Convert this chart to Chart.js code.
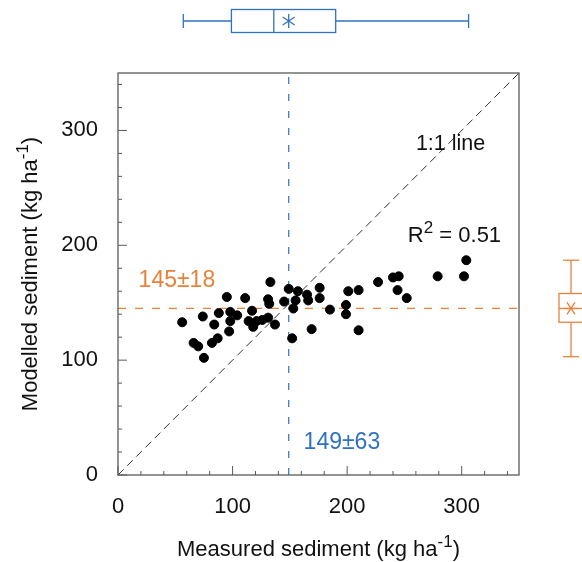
<!DOCTYPE html>
<html>
<head>
<meta charset="utf-8">
<script src="https://cdn.jsdelivr.net/npm/chart.js@4.4.0/dist/chart.umd.min.js"></script>
<style>
  html, body { margin: 0; padding: 0; background: #fff; }
</style>
</head>
<body>
<canvas id="chart" width="582" height="562"></canvas>
<script>
// measured vs modelled sediment, kg/ha
var measured = [56, 74, 66, 70, 75, 82, 87, 84, 88, 95, 98, 104, 98, 97, 111, 117, 114, 118, 121, 126,
                131, 137, 133, 131, 132, 145, 149, 157, 155, 153, 152, 165, 166, 176, 176, 185, 169, 199, 199, 201,
                210, 210, 227, 240, 245, 244, 252, 279, 302, 304];
var modelled = [133, 138, 115, 112, 102, 115, 119, 131, 141, 155, 142, 139, 134, 125, 154, 143, 134, 129, 134, 135,
                137, 131, 168, 153, 149, 151, 162, 160, 152, 145, 119, 157, 152, 163, 154, 144, 127, 148, 140, 160,
                161, 126, 168, 172, 173, 161, 154, 173, 173, 187];

// box plots: whisker low, q1, median, q3, whisker high
var measuredBox = [57, 99, 136, 190, 306];
var modelledBox = [103, 133, 145, 158, 187];
var measuredMean = 149, measuredSd = 63;
var modelledMean = 145, modelledSd = 18;

var axisMax = 350;
var tickLabels = [0, 100, 200, 300];
var r2 = 0.51;

var blue = '#2f72c2';
var orange = '#e8823a';
var FONT = '"Liberation Sans", Arial, sans-serif';

var points = [];
for (var i = 0; i < measured.length; i++) {
  points.push({ x: measured[i], y: modelled[i] });
}

// text with superscripts, parts = [[text, isSup], ...]
function drawRich(ctx, parts, x, y, size, color, align) {
  var w = 0;
  parts.forEach(function (p) {
    ctx.font = (p[1] ? Math.round(size * 0.75) : size) + 'px ' + FONT;
    w += ctx.measureText(p[0]).width;
  });
  var cx = align === 'center' ? x - w / 2 : x;
  ctx.fillStyle = color;
  ctx.textAlign = 'left';
  ctx.textBaseline = 'alphabetic';
  parts.forEach(function (p) {
    ctx.font = (p[1] ? Math.round(size * 0.75) : size) + 'px ' + FONT;
    ctx.fillText(p[0], cx, p[1] ? y - size * 0.42 : y);
    cx += ctx.measureText(p[0]).width;
  });
}

function line(ctx, x1, y1, x2, y2) {
  ctx.beginPath();
  ctx.moveTo(x1, y1);
  ctx.lineTo(x2, y2);
  ctx.stroke();
}

var extras = {
  id: 'extras',
  afterDraw: function (chart) {
    var ctx = chart.ctx;
    var xs = chart.scales.x, ys = chart.scales.y;
    var a = chart.chartArea;
    ctx.save();

    // frame
    ctx.strokeStyle = '#5a5a5a';
    ctx.lineWidth = 1.3;
    ctx.setLineDash([]);
    ctx.strokeRect(a.left, a.top, a.right - a.left, a.bottom - a.top);

    // inward ticks every 20
    ctx.lineWidth = 1;
    for (var v = 0; v <= axisMax; v += 20) {
      var len = v % 100 === 0 ? 9 : 4;
      var px = xs.getPixelForValue(v);
      line(ctx, px, a.bottom, px, a.bottom - len);
      var py = ys.getPixelForValue(v);
      line(ctx, a.left, py, a.left + len, py);
    }

    // top box plot (measured)
    ctx.strokeStyle = blue;
    ctx.lineWidth = 1.3;
    var cy = 21;
    var b = measuredBox.map(function (d) { return xs.getPixelForValue(d); });
    line(ctx, b[0], cy, b[1], cy);
    line(ctx, b[3], cy, b[4], cy);
    line(ctx, b[0], cy - 7, b[0], cy + 7);
    line(ctx, b[4], cy - 7, b[4], cy + 7);
    ctx.strokeRect(b[1], cy - 11.5, b[3] - b[1], 23);
    line(ctx, b[2], cy - 11.5, b[2], cy + 11.5);
    var mx = xs.getPixelForValue(measuredMean);
    line(ctx, mx, cy - 7, mx, cy + 7);
    line(ctx, mx - 6, cy - 4, mx + 6, cy + 4);
    line(ctx, mx - 6, cy + 4, mx + 6, cy - 4);

    // right box plot (modelled)
    ctx.strokeStyle = orange;
    var cx = 571;
    var c = modelledBox.map(function (d) { return ys.getPixelForValue(d); });
    line(ctx, cx, c[0], cx, c[1]);
    line(ctx, cx, c[3], cx, c[4]);
    line(ctx, cx - 8, c[0], cx + 8, c[0]);
    line(ctx, cx - 8, c[4], cx + 8, c[4]);
    ctx.strokeRect(cx - 12, c[3], 24, c[1] - c[3]);
    line(ctx, cx - 12, c[2], cx + 12, c[2]);
    var my = ys.getPixelForValue(modelledMean);
    line(ctx, cx - 7, my, cx + 7, my);
    line(ctx, cx - 4, my - 6, cx + 4, my + 6);
    line(ctx, cx + 4, my - 6, cx - 4, my + 6);

    // annotations
    drawRich(ctx, [['1:1 line', false]], xs.getPixelForValue(260), ys.getPixelForValue(283), 21.5, '#111', 'left');
    drawRich(ctx, [['R', false], ['2', true], [' = ' + r2.toFixed(2), false]],
      xs.getPixelForValue(253), ys.getPixelForValue(203), 22, '#111', 'left');
    drawRich(ctx, [[modelledMean + '\u00b1' + modelledSd, false]],
      xs.getPixelForValue(18), ys.getPixelForValue(164), 23, orange, 'left');
    drawRich(ctx, [[measuredMean + '\u00b1' + measuredSd, false]],
      xs.getPixelForValue(162), ys.getPixelForValue(23), 23, blue, 'left');

    // axis titles
    drawRich(ctx, [['Measured sediment (kg ha', false], ['-1', true], [')', false]],
      (a.left + a.right) / 2, 556, 22, '#111', 'center');
    ctx.translate(37, (a.top + a.bottom) / 2);
    ctx.rotate(-Math.PI / 2);
    drawRich(ctx, [['Modelled sediment (kg ha', false], ['-1', true], [')', false]],
      0, 0, 22, '#111', 'center');
    ctx.restore();
  }
};

var axisOpts = function (width, height, pad) {
  return {
    type: 'linear',
    min: 0,
    max: axisMax,
    grid: { display: false },
    border: { display: false },
    afterBuildTicks: function (scale) {
      scale.ticks = tickLabels.map(function (v) { return { value: v }; });
    },
    afterFit: function (scale) {
      if (width) scale.width = width;
      if (height) scale.height = height;
    },
    ticks: {
      color: '#111',
      font: { family: FONT, size: 22 },
      padding: pad,
      maxRotation: 0
    }
  };
};

new Chart(document.getElementById('chart'), {
  type: 'scatter',
  data: {
    datasets: [
      {
        data: points,
        backgroundColor: '#000',
        borderColor: '#000',
        pointRadius: 4.5,
        pointHoverRadius: 4.5
      },
      {
        data: [{ x: 0, y: 0 }, { x: axisMax, y: axisMax }],
        showLine: true,
        pointRadius: 0,
        borderColor: '#333',
        borderWidth: 1,
        borderDash: [8, 5]
      },
      {
        data: [{ x: measuredMean, y: 0 }, { x: measuredMean, y: axisMax }],
        showLine: true,
        pointRadius: 0,
        borderColor: blue,
        borderWidth: 1.2,
        borderDash: [7, 10]
      },
      {
        data: [{ x: 0, y: modelledMean }, { x: axisMax, y: modelledMean }],
        showLine: true,
        pointRadius: 0,
        borderColor: orange,
        borderWidth: 1.2,
        borderDash: [8, 9]
      }
    ]
  },
  options: {
    responsive: false,
    animation: false,
    layout: { padding: { top: 73, right: 63, left: 0, bottom: 0 } },
    plugins: { legend: { display: false }, tooltip: { enabled: false } },
    scales: {
      x: axisOpts(null, 87, 11),
      y: axisOpts(118, null, 12)
    }
  },
  plugins: [extras]
});
</script>
</body>
</html>
